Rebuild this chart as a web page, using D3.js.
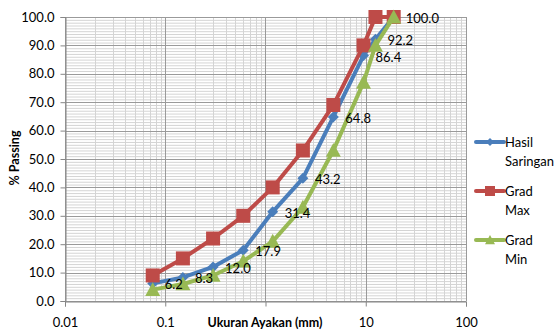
<!DOCTYPE html>
<html>
<head>
<meta charset="utf-8">
<script src="https://cdn.jsdelivr.net/npm/d3@7"></script>
<style>
  html, body { margin: 0; padding: 0; background: #fff; }
  text { font-family: Lato, "Liberation Sans", sans-serif; }
</style>
</head>
<body>
<svg id="chart"></svg>
<script>
// sieve sizes (mm) and % passing
const sizes = [0.075, 0.15, 0.3, 0.6, 1.18, 2.36, 4.75, 9.5, 12.5, 19];
const hasilSaringan = [6.2, 8.3, 12.0, 17.9, 31.4, 43.2, 64.8, 86.4, 92.2, 100.0];
const gradMax = [9, 15, 22, 30, 40, 53, 69, 90, 100, 100];
const gradMin = [4, 6, 9, 14, 21, 33, 53, 77, 90, 100];
const xTicks = [0.01, 0.1, 1, 10, 100];
const xTickLabels = ["0.01", "0.1", "", "10", "100"];   // "1" sits under the axis title
const yTicks = [0, 10, 20, 30, 40, 50, 60, 70, 80, 90, 100];
const seriesNames = [["Hasil", "Saringan"], ["Grad", "Max"], ["Grad", "Min"]];

const svg = d3.select("#chart")
              .attr("width", 555)
              .attr("height", 333);

const x = d3.scaleLog().domain([0.01, 100]).range([65, 466]);
const y = d3.scaleLinear().domain([0, 100]).range([301, 17]);

// minor grid
const minorX = [];
[0.01, 0.1, 1, 10].forEach(d => { for (let k = 2; k <= 9; k++) minorX.push(d * k); });
svg.append("g").selectAll("line")
   .data(d3.range(0, 101, 1).filter(v => v % 10 !== 0))
   .enter().append("line")
   .attr("x1", 65).attr("x2", 466)
   .attr("y1", d => y(d) + 0.5).attr("y2", d => y(d) + 0.5)
   .attr("stroke", "#d4d4d4").attr("stroke-width", 1);
svg.append("g").selectAll("line")
   .data(minorX)
   .enter().append("line")
   .attr("x1", d => Math.round(x(d)) + 0.5).attr("x2", d => Math.round(x(d)) + 0.5)
   .attr("y1", 17).attr("y2", 301)
   .attr("stroke", "#d4d4d4").attr("stroke-width", 1);

// major grid
svg.append("g").selectAll("line")
   .data(yTicks)
   .enter().append("line")
   .attr("x1", 65).attr("x2", 466)
   .attr("y1", d => Math.round(y(d)) + 0.5).attr("y2", d => Math.round(y(d)) + 0.5)
   .attr("stroke", "#9a9a9a").attr("stroke-width", 1);
svg.append("g").selectAll("line")
   .data(xTicks)
   .enter().append("line")
   .attr("x1", d => Math.round(x(d)) + 0.5).attr("x2", d => Math.round(x(d)) + 0.5)
   .attr("y1", 17).attr("y2", 301)
   .attr("stroke", "#9a9a9a").attr("stroke-width", 1);

// axes
const yAxis = svg.append("g")
   .attr("transform", "translate(65.5,0)")
   .call(d3.axisLeft(y).tickValues(yTicks).tickFormat(d3.format(".1f")).tickSize(5).tickPadding(6));
const xAxis = svg.append("g")
   .attr("transform", "translate(0,301.5)")
   .call(d3.axisBottom(x).tickValues(xTicks).tickFormat((d, i) => xTickLabels[i]).tickSize(5).tickPadding(11));
[yAxis, xAxis].forEach(a => {
    a.select(".domain").attr("stroke", "#868686");
    a.selectAll(".tick line").attr("stroke", "#868686");
    a.selectAll(".tick text").attr("fill", "#000").attr("font-size", "13px")
     .attr("font-family", "Lato, 'Liberation Sans', sans-serif");
});

// axis titles
svg.append("text")
   .attr("x", 265)
   .attr("y", 327)
   .attr("text-anchor", "middle")
   .attr("font-size", "12.5px")
   .attr("font-weight", "bold")
   .text("Ukuran Ayakan (mm)");

svg.append("text")
   .attr("transform", "translate(19,158) rotate(-90)")
   .attr("text-anchor", "middle")
   .attr("font-size", "12.5px")
   .attr("font-weight", "bold")
   .text("% Passing");

// series
const colors = ["#4A7EBB", "#BE4B48", "#98B954"];
const allSeries = [hasilSaringan, gradMax, gradMin];
const line = d3.line().x(d => x(d[0])).y(d => y(d[1]));

function drawMarker(g, kind, cx, cy, color, s) {
    if (kind === 0) {
        g.append("path")
         .attr("d", `M${cx},${cy - s}L${cx + s},${cy}L${cx},${cy + s}L${cx - s},${cy}Z`)
         .attr("fill", color);
    } else if (kind === 1) {
        g.append("rect")
         .attr("x", cx - s).attr("y", cy - s)
         .attr("width", 2 * s).attr("height", 2 * s)
         .attr("fill", color);
    } else {
        g.append("path")
         .attr("d", `M${cx},${cy - s}L${cx + s},${cy + s * 0.85}L${cx - s},${cy + s * 0.85}Z`)
         .attr("fill", color);
    }
}

const markerSize = [5.5, 7, 7.5];
allSeries.forEach((vals, si) => {
    const pts = sizes.map((s, i) => [s, vals[i]]);
    const g = svg.append("g");
    g.append("path")
     .datum(pts)
     .attr("d", line)
     .attr("fill", "none")
     .attr("stroke", colors[si])
     .attr("stroke-width", 4)
     .attr("stroke-linejoin", "round")
     .attr("stroke-linecap", "round");
    pts.forEach(p => drawMarker(g, si, x(p[0]), y(p[1]), colors[si], markerSize[si]));
});

// data labels for Hasil Saringan
svg.append("g").selectAll("text")
   .data(sizes.map((s, i) => [s, hasilSaringan[i]]))
   .enter().append("text")
   .attr("x", d => x(d[0]) + 12)
   .attr("y", d => y(d[1]) + 6)
   .attr("font-size", "13px")
   .attr("fill", "#000")
   .text(d => d[1].toFixed(1));

// legend
const legendY = [142, 191, 240];
seriesNames.forEach((name, i) => {
    const g = svg.append("g");
    g.append("line")
     .attr("x1", 476).attr("x2", 504)
     .attr("y1", legendY[i]).attr("y2", legendY[i])
     .attr("stroke", colors[i])
     .attr("stroke-width", 4)
     .attr("stroke-linecap", "round");
    drawMarker(g, i, 490, legendY[i], colors[i], i === 0 ? 4 : 5);
    g.append("text")
     .attr("x", 505)
     .attr("y", legendY[i] + 5)
     .attr("font-size", "13px")
     .text(name[0]);
    g.append("text")
     .attr("x", 505)
     .attr("y", legendY[i] + 24)
     .attr("font-size", "13px")
     .text(name[1]);
});
</script>
</body>
</html>
